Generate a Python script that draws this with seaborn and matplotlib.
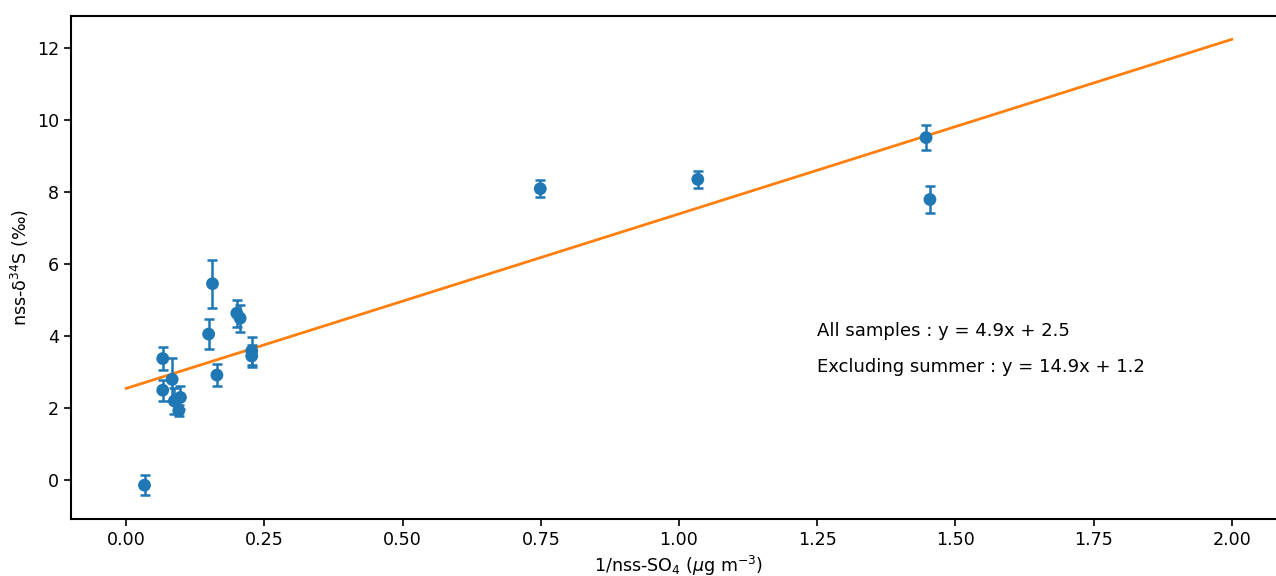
import matplotlib
matplotlib.use("Agg")
import matplotlib.pyplot as plt
import seaborn as sns
import pandas as pd
import numpy as np

# data
x_vals = [0.033, 0.066, 0.066, 0.083, 0.087, 0.098, 0.095, 0.149, 0.156, 0.164,
          0.200, 0.206, 0.227, 0.227, 0.749, 1.034, 1.447, 1.454]
y_vals = [-0.14, 3.38, 2.50, 2.80, 2.20, 2.30, 1.93, 4.06, 5.46, 2.92,
          4.64, 4.50, 3.59, 3.45, 8.10, 8.36, 9.52, 7.80]
y_err = [0.28, 0.31, 0.29, 0.60, 0.35, 0.32, 0.15, 0.41, 0.67, 0.31,
         0.37, 0.38, 0.39, 0.30, 0.24, 0.23, 0.35, 0.37]

fit_x = [0.0, 2.0]
fit_y = [2.55, 12.25]

label_all = "All samples : y = 4.9x + 2.5"
label_excl = "Excluding summer : y = 14.9x + 1.2"

df = pd.DataFrame({"x": x_vals, "y": y_vals, "err": y_err})
fit_df = pd.DataFrame({"x": fit_x, "y": fit_y})

fig = plt.figure(figsize=(12.76, 5.76), dpi=100)
ax = fig.add_axes([71/1276, 57/576, 1216/1276, 503/576])

ax.errorbar(df["x"], df["y"], yerr=df["err"], fmt="none", ecolor="C0",
            elinewidth=1.8, capsize=3.5, capthick=1.8, zorder=2)
sns.scatterplot(data=df, x="x", y="y", ax=ax, color="C0", s=85,
                edgecolor="none", zorder=3)
sns.lineplot(data=fit_df, x="x", y="y", ax=ax, color="C1", linewidth=2, zorder=1)

ax.set_xlim(-0.1, 2.1)
ax.set_ylim(-1.08, 12.9)
ax.set_xticks([0, 0.25, 0.5, 0.75, 1.0, 1.25, 1.5, 1.75, 2.0])
ax.set_xticklabels(["0.00", "0.25", "0.50", "0.75", "1.00", "1.25", "1.50", "1.75", "2.00"])
ax.set_yticks([0, 2, 4, 6, 8, 10, 12])

ax.text(1.25, 4.0, label_all, fontsize=13)
ax.text(1.25, 3.0, label_excl, fontsize=13)

ax.set_xlabel(r"1/nss-SO$_4$ ($\mu$g m$^{-3}$)", fontsize=12.6)
ax.set_ylabel(r"nss-δ$^{34}$S (‰)", fontsize=12.6)
ax.tick_params(labelsize=12.6, length=5, width=1.2)
for s in ax.spines.values():
    s.set_linewidth(1.5)

fig.savefig("out.png", dpi=100)
